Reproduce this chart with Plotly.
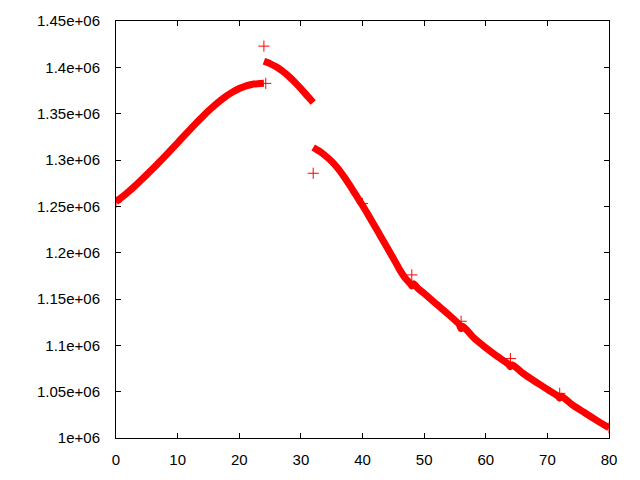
import plotly.graph_objects as go

# first branch, x 0..24
x1 = list(range(0, 25))
y1 = [1.2550e6, 1.2600e6, 1.2655e6, 1.2715e6, 1.2778e6, 1.2842e6, 1.2908e6,
      1.2975e6, 1.3045e6, 1.3115e6, 1.3185e6, 1.3258e6, 1.3328e6, 1.3398e6,
      1.3465e6, 1.3530e6, 1.3590e6, 1.3645e6, 1.3695e6, 1.3737e6, 1.3772e6,
      1.3798e6, 1.3815e6, 1.3824e6, 1.3827e6]

# second branch, x 24..32
x2 = [24, 25, 26, 27, 28, 29, 30, 31, 32]
y2 = [1.4065e6, 1.4040e6, 1.4005e6, 1.3960e6, 1.3905e6, 1.3840e6, 1.3770e6,
      1.3695e6, 1.3620e6]

# third branch, x 32..80
x3 = [32, 33, 34, 35, 36, 37, 38, 39, 40, 41, 42, 43, 44, 45, 46, 47, 47.7, 48, 48.3,
      49, 50, 52, 54, 55.7, 56, 56.3, 58, 60, 62, 63.7, 64, 64.3, 66, 68, 70,
      71.7, 72, 72.3, 74, 76, 78, 80]
y3 = [1.3135e6, 1.3095e6, 1.3045e6, 1.2985e6, 1.2910e6, 1.2820e6, 1.2720e6,
      1.2615e6, 1.2510e6, 1.2400e6, 1.2285e6, 1.2170e6, 1.2055e6, 1.1940e6,
      1.1820e6, 1.1720e6, 1.1670e6, 1.1640e6, 1.1665e6, 1.1615e6, 1.1560e6,
      1.1445e6, 1.1330e6, 1.1225e6, 1.1180e6, 1.1205e6, 1.1085e6, 1.0975e6,
      1.0875e6, 1.0795e6, 1.0770e6, 1.0790e6, 1.0700e6, 1.0610e6, 1.0525e6,
      1.0455e6, 1.0430e6, 1.0450e6, 1.0360e6, 1.0275e6, 1.0190e6, 1.0110e6]

# single stray points at the breaks
xs = [0, 24, 24.3, 32, 40, 48, 56, 64, 72, 80]
ys = [1.2545e6, 1.4229e6, 1.3827e6, 1.2857e6, 1.2530e6, 1.1760e6, 1.1260e6,
      1.0857e6, 1.0482e6, 1.0110e6]

yticks = [1.0e6, 1.05e6, 1.1e6, 1.15e6, 1.2e6, 1.25e6, 1.3e6, 1.35e6, 1.4e6, 1.45e6]
ylabels = ['1e+06', '1.05e+06', '1.1e+06', '1.15e+06', '1.2e+06', '1.25e+06',
           '1.3e+06', '1.35e+06', '1.4e+06', '1.45e+06']
xticks = [0, 10, 20, 30, 40, 50, 60, 70, 80]

red = '#ff0000'
fig = go.Figure()
for xx, yy in [(x1, y1), (x2, y2), (x3, y3)]:
    fig.add_trace(go.Scatter(x=xx, y=yy, mode='lines', showlegend=False,
                             line=dict(color=red, width=7, simplify=False,
                                       shape='spline', smoothing=0.5)))
fig.add_trace(go.Scatter(x=xs, y=ys, mode='markers', showlegend=False,
                         marker=dict(symbol='cross-thin', size=8,
                                     line=dict(color=red, width=1))))

axis = dict(showline=True, linecolor='black', linewidth=1, mirror='allticks',
            ticks='inside', ticklen=5, tickcolor='black', showgrid=False,
            zeroline=False, tickfont=dict(family='Liberation Sans', size=15, color='black'))
fig.update_xaxes(range=[0, 80], tickvals=xticks, ticklabelstandoff=8, **axis)
fig.update_yaxes(range=[1.0e6, 1.45e6], tickvals=yticks, ticktext=ylabels,
                 ticklabelstandoff=12, **axis)
fig.update_layout(width=640, height=480, plot_bgcolor='white', paper_bgcolor='white',
                  margin=dict(l=116, r=31, t=20, b=40))

fig.write_html("out.html", config={'displayModeBar': False},
               post_script="document.body.style.margin='0';")
